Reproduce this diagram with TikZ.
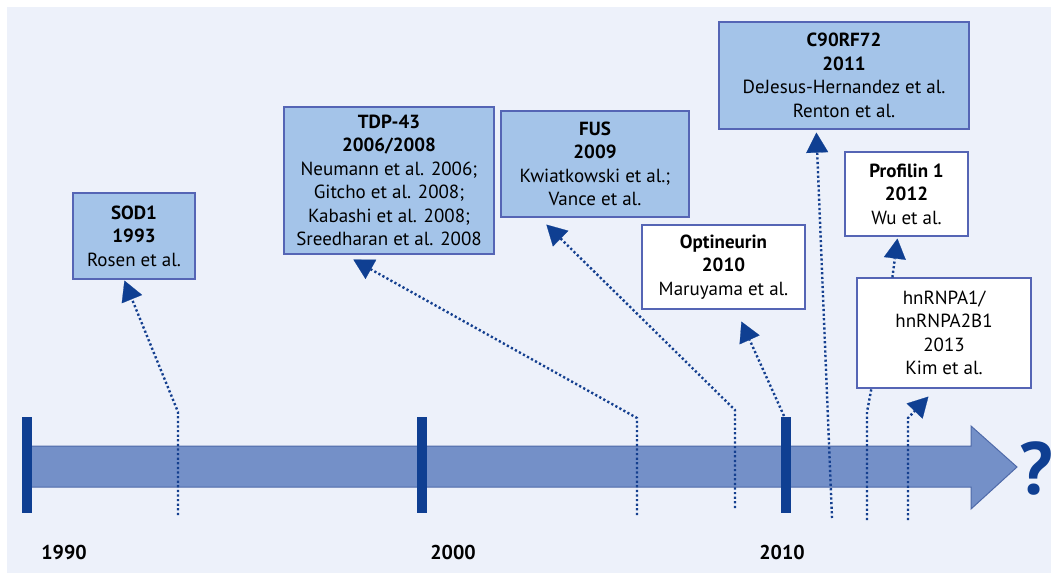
\documentclass[tikz,border=0pt]{standalone}
\usepackage{fontspec}
\setmainfont{PT Sans}
\usepackage{tikz}
\usetikzlibrary{arrows.meta}
\usetikzlibrary{calc}
\definecolor{bgblue}{HTML}{EDF1FA}
\definecolor{boxfill}{HTML}{A4C4E9}
\definecolor{boxline}{HTML}{5565B5}
\definecolor{bodyfill}{HTML}{7490C8}
\definecolor{bodyline}{HTML}{4F6AA9}
\definecolor{tickblue}{HTML}{0F3F92}
\definecolor{dotblue}{HTML}{143F8F}

\begin{document}
\begin{tikzpicture}[x=1pt, y=-1pt,
  gene/.style={draw=boxline, line width=1.2pt, fill=boxfill, align=center, inner sep=0pt, font=\fontsize{19}{23.5}\selectfont},
  newgene/.style={gene, fill=white},
  link/.style={draw=dotblue, line width=2.4pt, dash pattern=on 2.2pt off 2.4pt},
  linktip/.style={link, -{Triangle[length=20pt, width=22pt, line width=0.2pt, fill=tickblue, color=tickblue]}},
  yearlbl/.style={font=\fontsize{20}{22}\selectfont\bfseries}]
\useasboundingbox (0,0) rectangle (1051,573);
\fill[bgblue] (7,7) rectangle (1051,573);
% -- timeline --
\draw[fill=bodyfill, draw=bodyline, line width=1pt] (27,446) -- (971,446) -- (971,426) -- (1017,467) -- (971,509) -- (971,487) -- (27,487) -- cycle;
\fill[tickblue] (22,417) rectangle (32,513);
\fill[tickblue] (417,417) rectangle (427,513);
\fill[tickblue] (781,417) rectangle (791,513);
\node[yearlbl] (y1990) at (64,552) {1990};
\node[yearlbl] (y2000) at (453,552) {2000};
\node[yearlbl] (y2010) at (782,552) {2010};
\node[font=\fontsize{74}{74}\selectfont\bfseries, text=tickblue] (qmark) at (1036,468) {?};
% -- genes --
\node[gene, minimum width=122pt, minimum height=86pt] (sod) at (134,236) {\textbf{SOD1}\\\textbf{1993}\\Rosen et al.};
\node[gene, minimum width=210pt, minimum height=147pt] (tdp) at (389,180.5) {\textbf{TDP-43}\\\textbf{2006/2008}\\Neumann et al. 2006;\\Gitcho et al. 2008;\\Kabashi et al. 2008;\\Sreedharan et al. 2008};
\node[gene, minimum width=188pt, minimum height=106pt] (fus) at (595,164) {\textbf{FUS}\\\textbf{2009}\\Kwiatkowski et al.;\\Vance et al.};
\node[newgene, minimum width=163pt, minimum height=84pt] (optn) at (723.5,267) {\textbf{Optineurin}\\\textbf{2010}\\Maruyama et al.};
\node[gene, minimum width=250pt, minimum height=107pt] (cnine) at (844,75.5) {\textbf{C90RF72}\\\textbf{2011}\\DeJesus-Hernandez et al.\\Renton et al.};
\node[newgene, minimum width=123pt, minimum height=84pt] (pfn) at (906.5,194) {\textbf{Profilin 1}\\\textbf{2012}\\Wu et al.};
\node[newgene, minimum width=174pt, minimum height=110pt] (hnrnp) at (944,333) {hnRNPA1/\\hnRNPA2B1\\2013\\Kim et al.};
% -- free ends on the time axis --
\coordinate (sodfoot) at (178,515);
\coordinate (tdpfoot) at (637,515);
\coordinate (fusfoot) at (735,508);
\coordinate (optnfoot) at (784,416);
\coordinate (cninefoot) at (832,518);
\coordinate (hnfoot) at (867,520);
\coordinate (lastfoot) at (908,520);
% -- connectors --
\draw[linktip] (sodfoot) -- (178,412) -- ($(sod.south west)+(52,1)$);
\draw[linktip] (tdpfoot) -- (637,418) -- ($(tdp.south west)+(70,5)$);
\draw[linktip] (fusfoot) -- (735,410) -- ($(fus.south west)+(46,7)$);
\draw[linktip] (optnfoot) -- ($(optn.south west)+(100,12)$);
\draw[linktip] (cninefoot) -- ($(cnine.south west)+(98,3)$);
\draw[link] (hnfoot) -- (867,412) -- ($(hnrnp.south west)+(15,0)$);
\draw[linktip] (lastfoot) -- (908,418) -- ($(hnrnp.south west)+(72,8)$);
\draw[linktip] ($(hnrnp.north west)+(36,0)$) -- ($(pfn.south west)+(53,2)$);
\end{tikzpicture}
\end{document}
